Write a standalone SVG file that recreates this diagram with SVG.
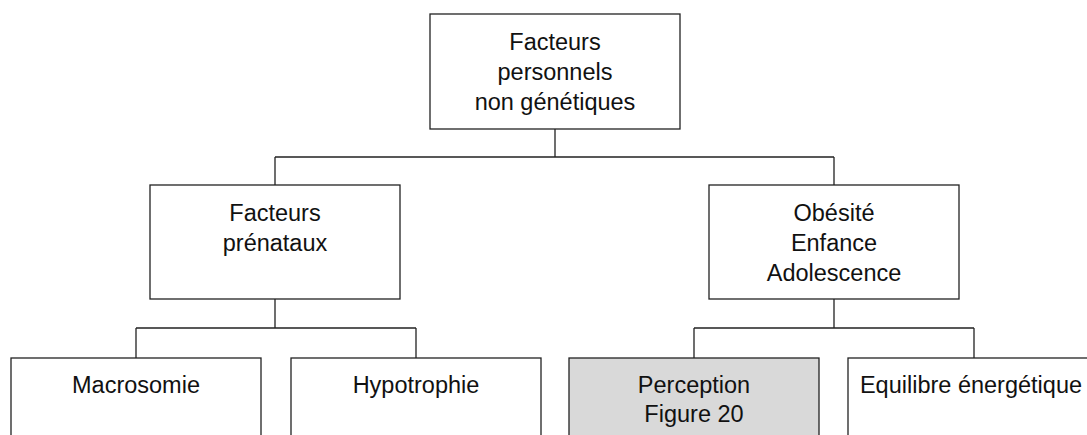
<svg xmlns="http://www.w3.org/2000/svg" width="1087" height="435" viewBox="0 0 1087 435">
<style>
.box{fill:#fff;stroke:#222;stroke-width:1.3}
.gray{fill:#d9d9d9}
.t{font-family:"Liberation Sans",Arial,sans-serif;font-size:23.5px;fill:#111;text-anchor:middle}
.c{fill:none;stroke:#222;stroke-width:1.3}
</style>
<rect width="1087" height="435" fill="#fff"/>
<g id="connectors">
<path class="c" d="M555 129V157M275 157H834M275 157V185M834 157V185"/>
<path class="c" d="M275 299V328M136 328H416M136 328V358M416 328V358"/>
<path class="c" d="M834 299V328M694 328H974M694 328V358M974 328V358"/>
</g>
<g id="root">
<rect class="box" x="430" y="14" width="250" height="115"/>
<text class="t" x="555" y="50">Facteurs</text>
<text class="t" x="555" y="80">personnels</text>
<text class="t" x="555" y="110">non génétiques</text>
</g>
<g id="prenataux">
<rect class="box" x="150" y="185" width="250" height="114"/>
<text class="t" x="275" y="221">Facteurs</text>
<text class="t" x="275" y="251">prénataux</text>
</g>
<g id="obesite">
<rect class="box" x="709" y="185" width="250" height="114"/>
<text class="t" x="834" y="221">Obésité</text>
<text class="t" x="834" y="251">Enfance</text>
<text class="t" x="834" y="281">Adolescence</text>
</g>
<g id="macrosomie">
<rect class="box" x="11" y="358" width="250" height="90"/>
<text class="t" x="136" y="393">Macrosomie</text>
</g>
<g id="hypotrophie">
<rect class="box" x="291" y="358" width="250" height="90"/>
<text class="t" x="416" y="393">Hypotrophie</text>
</g>
<g id="perception">
<rect class="box gray" x="569" y="358" width="250" height="90"/>
<text class="t" x="694" y="393">Perception</text>
<text class="t" x="694" y="422">Figure 20</text>
</g>
<g id="equilibre">
<rect class="box" x="848" y="358" width="250" height="90"/>
<text class="t" x="971" y="393">Equilibre énergétique</text>
</g>
</svg>
